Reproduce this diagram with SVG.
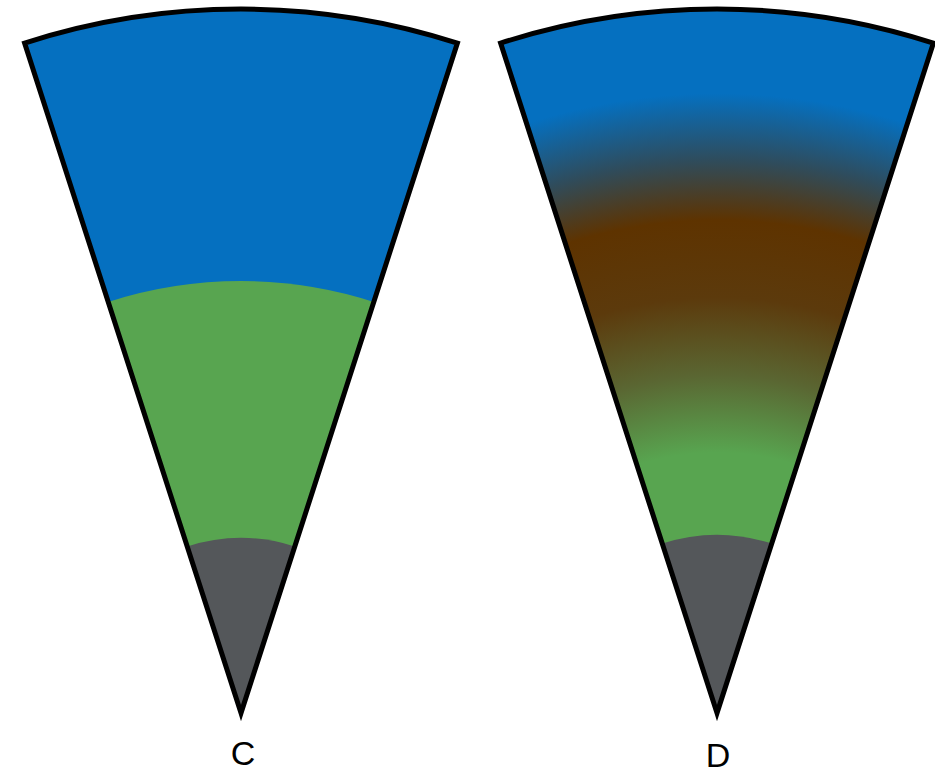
<svg xmlns="http://www.w3.org/2000/svg" width="935" height="774" viewBox="0 0 935 774">
  <style>
    .blue { fill: #0570C0; }
    .green { fill: #58A550; }
    .gray { fill: #54575A; }
    .outline { fill: none; stroke: #000; stroke-width: 5; stroke-linejoin: miter; stroke-miterlimit: 10; }
    .label { font-family: "Liberation Sans", Arial, sans-serif; font-size: 34px; fill: #000; text-anchor: middle; }
  </style>
  <defs>
    <!-- layered blend from surface to core, centred on the apex of wedge D -->
    <radialGradient id="blend" gradientUnits="userSpaceOnUse" cx="717" cy="713" r="704" fx="717" fy="713">
      <stop offset="0" stop-color="#58A550"/>
      <stop offset="0.37" stop-color="#58A550"/>
      <stop offset="0.48" stop-color="#5A6632"/>
      <stop offset="0.59" stop-color="#5C3A0C"/>
      <stop offset="0.70" stop-color="#5E3300"/>
      <stop offset="0.785" stop-color="#2F4C5C"/>
      <stop offset="0.88" stop-color="#0570C0"/>
      <stop offset="1" stop-color="#0570C0"/>
    </radialGradient>
  </defs>

  <!-- Wedge C: sharp layers -->
  <g id="wedge-c">
    <path class="blue" d="M241 713 L24.6 43.1 A704 704 0 0 1 457.4 43.1 Z"/>
    <path class="green" d="M241 713 L108.2 301.9 A432 432 0 0 1 373.8 301.9 Z"/>
    <path class="gray" d="M241 713 L187.2 546.5 A175 175 0 0 1 294.8 546.5 Z"/>
    <path class="outline" d="M241 713 L24.6 43.1 A704 704 0 0 1 457.4 43.1 Z"/>
    <text class="label" x="243" y="765">C</text>
  </g>

  <!-- Wedge D: blended layers -->
  <g id="wedge-d">
    <path fill="url(#blend)" d="M717 713 L500.6 43.1 A704 704 0 0 1 933.4 43.1 Z"/>
    <path class="gray" d="M717 713 L662.3 543.6 A178 178 0 0 1 771.7 543.6 Z"/>
    <path class="outline" d="M717 713 L500.6 43.1 A704 704 0 0 1 933.4 43.1 Z"/>
    <text class="label" x="718" y="767">D</text>
  </g>
</svg>
